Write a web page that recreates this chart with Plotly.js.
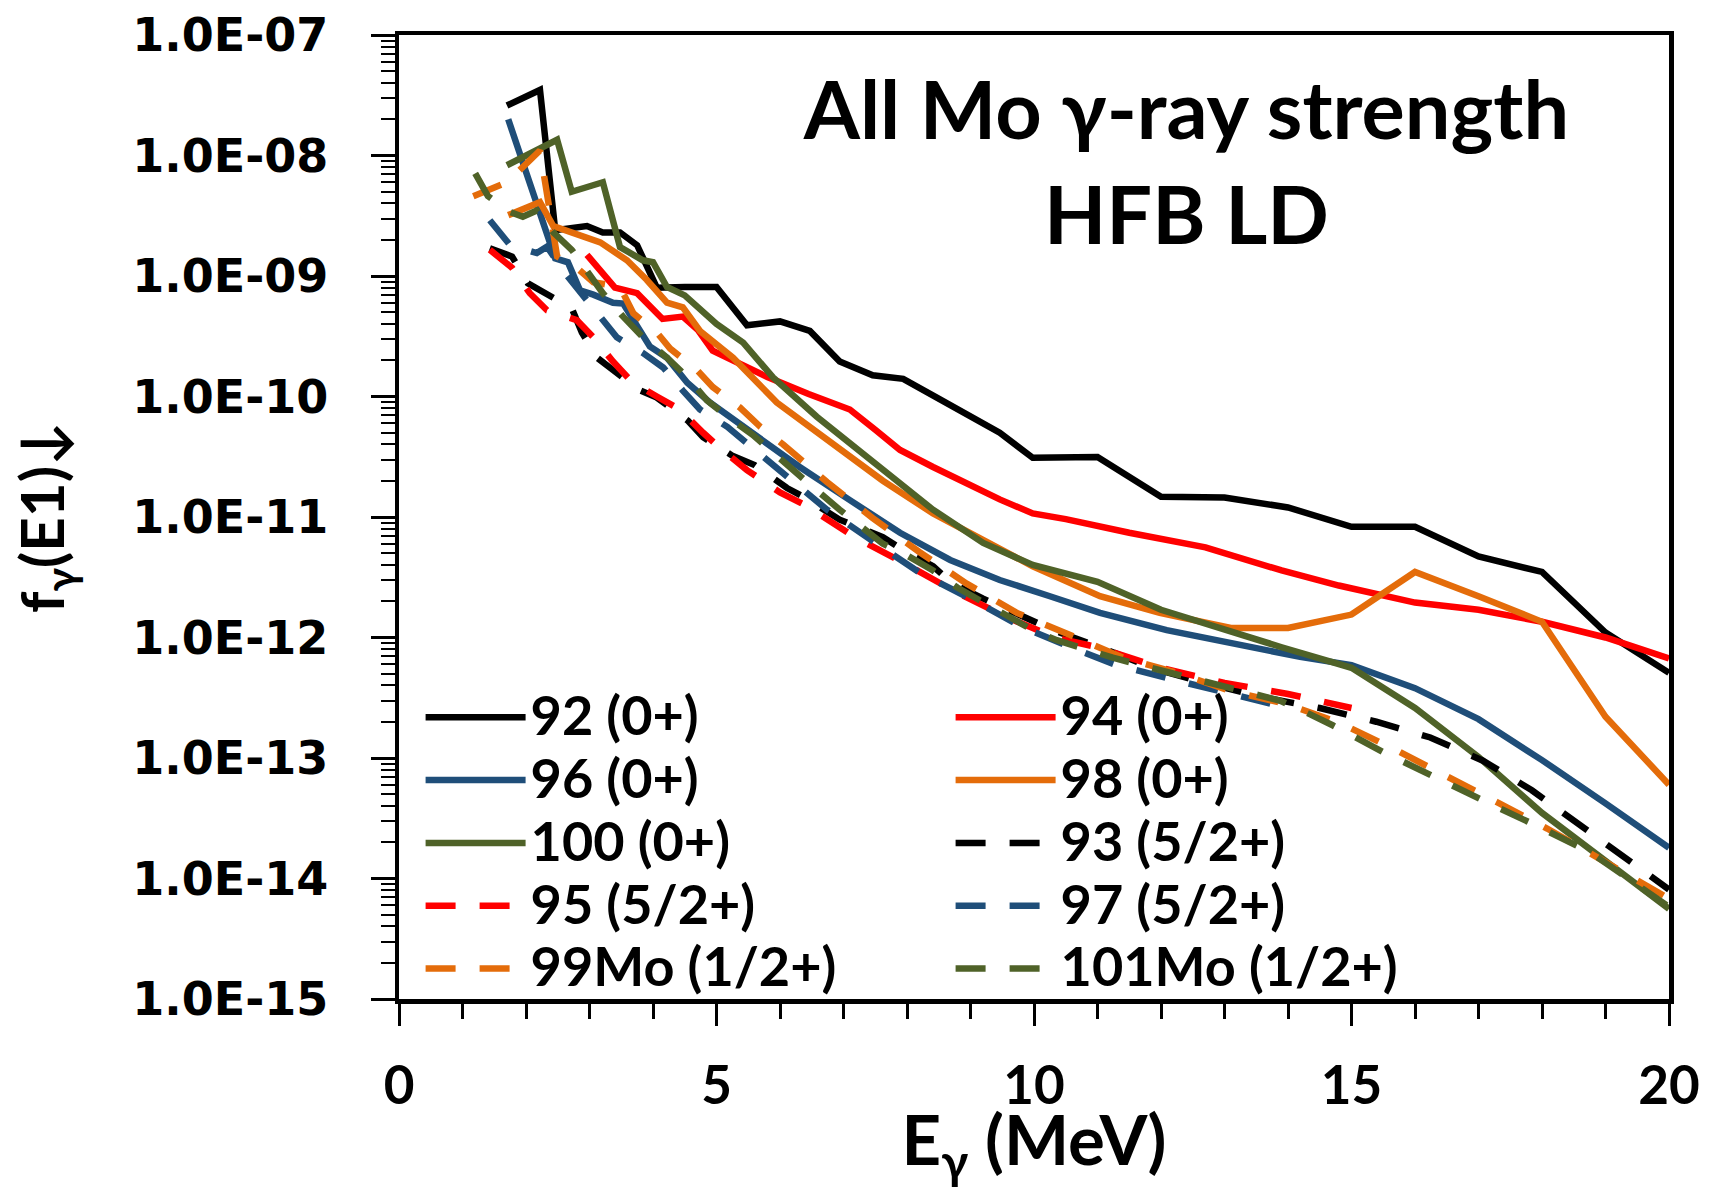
<!DOCTYPE html>
<html>
<head>
<meta charset="utf-8">
<script src="https://cdn.plot.ly/plotly-3.0.1.min.js"></script>
<style>
  html, body { margin: 0; padding: 0; background: #ffffff; }
  #chart { width: 1717px; height: 1189px; }
</style>
</head>
<body>
<div id="chart"></div>
<script>
// ---------------- data ----------------
const e92  = [1.7, 2.22, 2.46, 2.96, 3.21, 3.48, 3.75, 4.06, 4.5, 5.0, 5.48, 6.0, 6.47, 6.94, 7.46, 7.94, 8.47, 8.94, 9.46, 9.98, 11.0, 12.0, 13.0, 14.0, 15.0, 16.0, 17.0, 18.0, 19.0, 20.0];
const f92  = [2.6e-8, 3.5e-8, 2.4e-9, 2.6e-9, 2.3e-9, 2.3e-9, 1.8e-9, 8.0e-10, 8.1e-10, 8.1e-10, 3.9e-10, 4.2e-10, 3.5e-10, 1.95e-10, 1.5e-10, 1.4e-10, 9.8e-11, 7.1e-11, 5.0e-11, 3.1e-11, 3.15e-11, 1.47e-11, 1.45e-11, 1.2e-11, 8.3e-12, 8.3e-12, 4.7e-12, 3.5e-12, 1.1e-12, 5.1e-13];

const e94  = [2.96, 3.4, 3.75, 4.15, 4.47, 4.7, 4.94, 5.26, 5.8, 6.45, 6.83, 7.1, 7.5, 7.89, 8.41, 8.94, 9.46, 9.98, 10.5, 11.5, 12.7, 13.9, 14.8, 16.0, 17.0, 18.0, 19.0, 20.0];
const f94  = [1.5e-9, 8.0e-10, 7.2e-10, 4.4e-10, 4.6e-10, 3.6e-10, 2.4e-10, 2.0e-10, 1.45e-10, 1.05e-10, 8.9e-11, 7.8e-11, 5.3e-11, 3.6e-11, 2.6e-11, 1.9e-11, 1.4e-11, 1.07e-11, 9.6e-12, 7.4e-12, 5.6e-12, 3.6e-12, 2.7e-12, 1.95e-12, 1.7e-12, 1.35e-12, 1.0e-12, 6.7e-13];

const e96  = [1.72, 2.46, 2.66, 2.85, 3.06, 3.37, 3.53, 3.69, 3.95, 4.22, 4.54, 4.9, 5.53, 6.31, 7.1, 7.89, 8.68, 9.46, 10.25, 11.04, 12.09, 13.13, 14.19, 15.0, 16.0, 17.0, 18.0, 19.0, 20.0];
const f96  = [2.0e-8, 1.4e-9, 1.3e-9, 7.6e-10, 7.0e-10, 6.0e-10, 5.9e-10, 4.3e-10, 2.6e-10, 2.1e-10, 1.3e-10, 8.9e-11, 5.1e-11, 2.6e-11, 1.38e-11, 7.4e-12, 4.4e-12, 3.0e-12, 2.2e-12, 1.6e-12, 1.15e-12, 9.0e-13, 6.9e-13, 5.9e-13, 3.8e-13, 2.1e-13, 9.6e-14, 4.2e-14, 1.8e-14];

const e98  = [1.72, 2.22, 2.43, 2.74, 3.17, 3.59, 3.9, 4.22, 4.47, 4.74, 5.26, 5.95, 6.83, 7.62, 8.41, 9.2, 9.98, 11.04, 11.98, 13.1, 14.0, 15.0, 16.0, 17.0, 18.0, 19.0, 20.0];
const f98  = [3.2e-9, 4.1e-9, 2.6e-9, 2.3e-9, 1.9e-9, 1.35e-9, 9.3e-10, 6.0e-10, 5.5e-10, 3.5e-10, 2.1e-10, 8.9e-11, 4.1e-11, 2.0e-11, 1.07e-11, 6.4e-12, 3.9e-12, 2.2e-12, 1.6e-12, 1.2e-12, 1.2e-12, 1.55e-12, 3.5e-12, 2.2e-12, 1.35e-12, 2.2e-13, 6.0e-14];

const e100 = [1.7, 2.49, 2.72, 3.21, 3.48, 3.84, 4.0, 4.22, 4.5, 5.0, 5.42, 5.89, 6.58, 7.37, 8.41, 9.2, 9.98, 11.0, 12.0, 13.9, 15.0, 16.0, 17.0, 18.0, 19.0, 20.0];
const f100 = [8.3e-9, 1.35e-8, 5.0e-9, 6.0e-9, 1.74e-9, 1.35e-9, 1.3e-9, 8.1e-10, 6.9e-10, 4.0e-10, 2.8e-10, 1.44e-10, 6.8e-11, 3.2e-11, 1.15e-11, 6.1e-12, 4.0e-12, 2.9e-12, 1.7e-12, 8.3e-13, 5.6e-13, 2.6e-13, 1.02e-13, 3.5e-14, 1.4e-14, 5.6e-15];

const e93  = [1.43, 1.78, 2.03, 2.72, 2.88, 3.12, 3.37, 3.8, 4.06, 4.55, 4.79, 5.26, 5.6, 6.11, 6.36, 6.94, 7.62, 8.0, 8.41, 8.72, 9.2, 9.51, 10.05, 10.36, 11.04, 11.9, 12.77, 13.6, 14.5, 15.39, 16.24, 17.07, 17.84, 18.58, 19.26, 20.0];
const f93  = [1.7e-9, 1.45e-9, 8.7e-10, 5.4e-10, 3.4e-10, 2.1e-10, 1.66e-10, 1.12e-10, 9.8e-11, 6.3e-11, 4.6e-11, 3.2e-11, 2.7e-11, 1.74e-11, 1.48e-11, 9.5e-12, 6.8e-12, 5.1e-12, 3.9e-12, 2.8e-12, 2.1e-12, 1.76e-12, 1.3e-12, 1.12e-12, 8.3e-13, 5.5e-13, 4.1e-13, 3.2e-13, 2.6e-13, 2.0e-13, 1.48e-13, 9.5e-14, 5.4e-14, 2.8e-14, 1.55e-14, 8.1e-15];

const e95  = [1.43, 1.78, 2.06, 2.33, 2.8, 3.06, 3.37, 3.67, 4.06, 4.42, 4.79, 5.09, 5.48, 6.0, 6.39, 7.18, 7.97, 8.76, 9.54, 10.33, 11.0, 12.0, 13.0, 14.0, 15.0];
const f95  = [1.65e-9, 1.17e-9, 7.2e-10, 5.2e-10, 4.3e-10, 3.1e-10, 1.95e-10, 1.32e-10, 1.0e-10, 7.8e-11, 5.0e-11, 3.6e-11, 2.45e-11, 1.6e-11, 1.26e-11, 6.8e-12, 4.1e-12, 2.4e-12, 1.5e-12, 1.0e-12, 8.3e-13, 5.6e-13, 4.2e-13, 3.4e-13, 2.6e-13];

const e97  = [1.43, 1.75, 2.17, 2.33, 2.65, 3.17, 3.43, 3.84, 4.16, 4.47, 4.74, 5.17, 5.48, 6.05, 6.74, 7.46, 8.22, 9.0, 9.8, 10.65, 11.3, 12.4, 13.3, 14.0];
const f97  = [2.9e-9, 1.8e-9, 1.55e-9, 1.75e-9, 1.0e-9, 4.6e-10, 3.1e-10, 2.3e-10, 1.74e-10, 1.12e-10, 7.8e-11, 5.6e-11, 4.1e-11, 2.3e-11, 1.15e-11, 6.3e-12, 3.4e-12, 2.1e-12, 1.23e-12, 8.0e-13, 5.9e-13, 4.2e-13, 3.2e-13, 2.6e-13];

const e99  = [1.17, 1.7, 2.22, 2.49, 2.8, 3.06, 3.48, 3.69, 4.06, 4.27, 4.69, 4.94, 5.37, 5.69, 6.05, 6.74, 7.46, 8.2, 8.94, 9.73, 10.57, 11.4, 12.25, 13.09, 13.98, 14.82, 15.65, 16.44, 17.29, 18.08, 18.76, 20.0];
const f99  = [4.6e-9, 6.0e-9, 1.1e-8, 1.45e-9, 1.17e-9, 8.9e-10, 8.1e-10, 4.9e-10, 3.4e-10, 2.5e-10, 1.66e-10, 1.2e-10, 8.1e-11, 5.6e-11, 4.0e-11, 1.95e-11, 9.8e-12, 5.1e-12, 2.8e-12, 1.6e-12, 1.05e-12, 6.8e-13, 5.1e-13, 3.6e-13, 2.8e-13, 1.95e-13, 1.2e-13, 7.2e-14, 4.3e-14, 2.6e-14, 1.6e-14, 6.8e-15];

const e101 = [1.2, 1.4, 1.75, 1.95, 2.17, 2.43, 2.72, 3.0, 3.21, 3.53, 3.84, 4.22, 4.54, 4.85, 5.17, 5.57, 5.89, 6.27, 6.58, 6.94, 7.26, 7.62, 8.0, 8.41, 8.79, 9.2, 9.57, 9.98, 10.36, 10.96, 11.24, 12.14, 12.98, 13.87, 14.35, 14.71, 15.5, 16.31, 17.13, 17.94, 18.76, 20.0];
const f101 = [7.1e-9, 4.6e-9, 3.4e-9, 3.1e-9, 3.5e-9, 2.3e-9, 1.65e-9, 1.05e-9, 7.2e-10, 4.6e-10, 3.1e-10, 2.1e-10, 1.45e-10, 9.3e-11, 6.8e-11, 4.8e-11, 3.4e-11, 2.3e-11, 1.66e-11, 1.15e-11, 8.5e-12, 6.0e-12, 4.8e-12, 3.6e-12, 2.6e-12, 1.95e-12, 1.5e-12, 1.15e-12, 9.5e-13, 7.4e-13, 6.8e-13, 5.1e-13, 3.9e-13, 3.0e-13, 2.3e-13, 1.86e-13, 1.12e-13, 6.9e-14, 4.3e-14, 2.7e-14, 1.65e-14, 5.8e-15];

const seriesNames = ['92 (0+)', '94 (0+)', '96 (0+)', '98 (0+)', '100 (0+)', '93 (5/2+)', '95 (5/2+)', '97 (5/2+)', '99Mo (1/2+)', '101Mo (1/2+)'];
const seriesX = [e92, e94, e96, e98, e100, e93, e95, e97, e99, e101];
const seriesY = [f92, f94, f96, f98, f100, f93, f95, f97, f99, f101];

const yTickVals = [1e-15, 1e-14, 1e-13, 1e-12, 1e-11, 1e-10, 1e-9, 1e-8, 1e-7];
const yTickText = ['1.0E-15', '1.0E-14', '1.0E-13', '1.0E-12', '1.0E-11', '1.0E-10', '1.0E-09', '1.0E-08', '1.0E-07'];
const xTickVals = [0, 5, 10, 15, 20];

// ---------------- styles ----------------
const colors = ['#000000', '#FF0000', '#1F4E79', '#E46C0A', '#4F6228', '#000000', '#FF0000', '#1F4E79', '#E46C0A', '#4F6228'];
const dashes = ['solid', 'solid', 'solid', 'solid', 'solid', '30px,24px', '30px,24px', '30px,24px', '30px,24px', '30px,24px'];

const traces = seriesNames.map((nm, i) => ({
  type: 'scatter',
  mode: 'lines',
  x: seriesX[i],
  y: seriesY[i],
  name: '<span style="font-size:54px">' + nm + '</span>',
  line: { color: colors[i], width: 6.5, dash: dashes[i] },
  hoverinfo: 'x+y'
}));

const boldLato = { family: 'Lato, "Open Sans", sans-serif', weight: 'bold', color: '#000000' };

const layout = {
  width: 1717,
  height: 1189,
  paper_bgcolor: '#ffffff',
  plot_bgcolor: '#ffffff',
  margin: { l: 399, r: 48, t: 35, b: 190, pad: 0 },
  showlegend: true,
  title: {
    text: 'All Mo γ-ray strength<br>HFB LD',
    font: Object.assign({}, boldLato, { size: 81 }),
    x: 0.691, xref: 'container', xanchor: 'center',
    y: 0.883, yref: 'container', yanchor: 'top'
  },
  legend: {
    orientation: 'h',
    x: 0.017, xanchor: 'left',
    y: 0.33, yanchor: 'top',
    bgcolor: 'rgba(0,0,0,0)',
    borderwidth: 0,
    itemwidth: 100,
    entrywidth: 415,
    entrywidthmode: 'pixels',
    tracegroupgap: 0,
    traceorder: 'normal',
    font: Object.assign({}, boldLato, { size: 46 })
  },
  xaxis: {
    type: 'linear',
    range: [0, 20],
    tickvals: xTickVals,
    ticks: 'outside', ticklen: 22, tickwidth: 3, tickcolor: '#000000',
    minor: { dtick: 1, ticks: 'outside', ticklen: 15, tickwidth: 3, tickcolor: '#000000', showgrid: false },
    ticklabelstandoff: 15,
    tickfont: Object.assign({}, boldLato, { size: 53 }),
    showline: true, linewidth: 4.5, linecolor: '#000000', mirror: true,
    showgrid: false, zeroline: false,
    title: {
      text: 'E<sub>γ</sub> (MeV)',
      font: Object.assign({}, boldLato, { size: 69 }),
      standoff: 35
    }
  },
  yaxis: {
    type: 'log',
    range: [-15, -7],
    tickvals: yTickVals,
    ticktext: yTickText,
    ticks: 'outside', ticklen: 24, tickwidth: 3, tickcolor: '#000000',
    minor: { dtick: 'D1', ticks: 'outside', ticklen: 14, tickwidth: 2, tickcolor: '#000000', showgrid: false },
    ticklabelstandoff: 33,
    tickfont: { family: '"DejaVu Sans", Verdana, sans-serif', weight: 'bold', size: 46, color: '#000000' },
    showline: true, linewidth: 4.5, linecolor: '#000000', mirror: true,
    showgrid: false, zeroline: false,
    title: {
      text: 'f<sub>γ</sub>(E1)↓',
      font: Object.assign({}, boldLato, { size: 60 }),
      standoff: 50
    }
  }
};

Plotly.newPlot('chart', traces, layout, { displayModeBar: false, staticPlot: true });
</script>
</body>
</html>
